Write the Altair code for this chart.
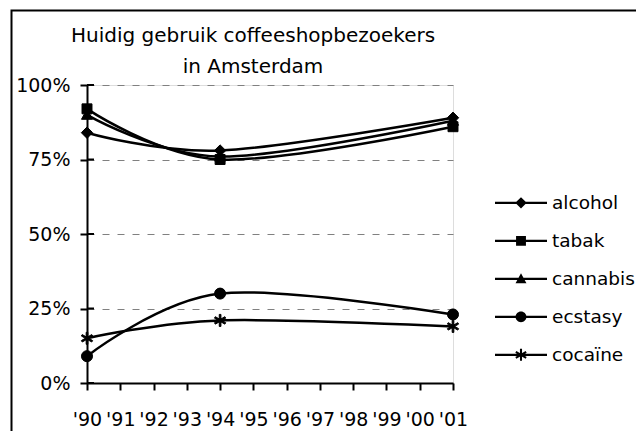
import math
import altair as alt
import pandas as pd

# ---- data ----
years = [1990, 1994, 2001]
series = ["alcohol", "tabak", "cannabis", "ecstasy", "cocaïne"]
alcohol = [84, 78, 89]
tabak = [92, 75, 86]
cannabis = [90, 76, 88]
ecstasy = [9, 30, 23]
cocaine = [15, 21, 19]
values = [alcohol, tabak, cannabis, ecstasy, cocaine]

tick_years = list(range(1990, 2002))
tick_labels = ["'90", "'91", "'92", "'93", "'94", "'95", "'96", "'97", "'98", "'99", "'00", "'01"]
y_ticks = [0, 0.25, 0.5, 0.75, 1.0]
title_lines = ["Huidig gebruik coffeeshopbezoekers", "in Amsterdam"]

FONT = "DejaVu Sans"

rows = []
for s, vals in zip(series, values):
    for y, v in zip(years, vals):
        rows.append({"year": y, "pct": v / 100.0, "series": s})
df = pd.DataFrame(rows)
ticks_df = pd.DataFrame({"tick": y_ticks})


def bar(length, half_t, angle_deg):
    """filled thin rectangle through the origin (symbol geometry)"""
    a = math.radians(angle_deg)
    c, s = math.cos(a), math.sin(a)
    pts = []
    for px, py in [(-length, -half_t), (length, -half_t), (length, half_t), (-length, half_t)]:
        pts.append((px * c - py * s, px * s + py * c))
    return "M" + "L".join(f"{x:.3f},{y:.3f}" for x, y in pts) + "Z"


def star(length, half_t):
    return "".join(bar(length, half_t, a) for a in (90, 30, 150))


def disc(r):
    return f"M{-r},0A{r},{r} 0 1,1 {r},0A{r},{r} 0 1,1 {-r},0Z"


# marker shapes (unit coordinates, 1 unit = 6 px at size 144)
marker_paths = [
    "M0,-0.95L0.95,0L0,0.95L-0.95,0Z",
    "M-0.83,-0.83L0.83,-0.83L0.83,0.83L-0.83,0.83Z",
    "M0,-0.95L0.92,0.75L-0.92,0.75Z",
    disc(0.92),
    star(1.0, 0.14),
]
# legend symbols: line + marker (1 unit = 26 px at size 2704)
legend_line = bar(1.0, 0.045, 0)
legend_paths = [
    legend_line + "M0,-0.22L0.22,0L0,0.22L-0.22,0Z",
    legend_line + "M-0.19,-0.19L0.19,-0.19L0.19,0.19L-0.19,0.19Z",
    legend_line + "M0,-0.22L0.21,0.17L-0.21,0.17Z",
    legend_line + disc(0.21),
    legend_line + star(0.23, 0.04),
]

label_map = "{" + ",".join(f"'{y}':\"{l}\"" for y, l in zip(tick_years, tick_labels)) + "}"

x_axis = alt.Axis(
    values=tick_years, labelExpr=f"{label_map}[datum.value]", title=None,
    grid=False, domainColor="black", domainWidth=2, tickColor="black",
    tickWidth=2, tickSize=7, labelFont=FONT, labelFontSize=19,
    labelColor="black", labelPadding=20, labelFlush=False, labelOverlap=False,
    tickCount=12,
)
y_axis = alt.Axis(
    values=y_ticks, format=".0%", title=None, grid=True,
    gridDash=[7, 8], gridColor="#808080", gridWidth=1,
    domainColor="black", domainWidth=2, tickColor="black", tickWidth=2,
    tickSize=7, labelFont=FONT, labelFontSize=19, labelColor="black",
    labelPadding=10,
)
x_scale = alt.Scale(domain=[tick_years[0], tick_years[-1]], nice=False, zero=False)
y_scale = alt.Scale(domain=[0, 1], nice=False)


def X():
    return alt.X("year:Q", scale=x_scale, axis=x_axis)


def Y():
    return alt.Y("pct:Q", scale=y_scale, axis=y_axis)


base = alt.Chart(df)

lines = base.mark_line(interpolate="cardinal", color="black", strokeWidth=2.5).encode(
    x=X(), y=Y(), detail="series:N"
)

points = base.mark_point(filled=True, fill="black", stroke="black", strokeWidth=1, size=144, opacity=1).encode(
    x=X(), y=Y(),
    shape=alt.Shape("series:N", scale=alt.Scale(domain=series, range=marker_paths), legend=None),
)

legend_layer = base.transform_filter("false").mark_point(
    filled=True, fill="black", size=2704, opacity=1
).encode(
    x=X(), y=Y(),
    shape=alt.Shape(
        "series:N",
        scale=alt.Scale(domain=series, range=legend_paths),
        legend=alt.Legend(
            title=None, orient="none", legendX=408, legendY=99,
            symbolSize=2704, symbolFillColor="black", symbolStrokeWidth=0,
            symbolOpacity=1, labelFont=FONT, labelFontSize=18.5,
            labelColor="black", labelOffset=5, clipHeight=37.7, rowPadding=0,
            labelLimit=300,
        ),
    ),
)

inner_ticks = alt.Chart(ticks_df).mark_rule(color="black", strokeWidth=2).encode(
    y=alt.Y("tick:Q", scale=y_scale, axis=y_axis), x=alt.value(0), x2=alt.value(7)
)

frame = alt.Chart(ticks_df.head(1)).mark_rect(
    fill=None, stroke="black", strokeWidth=2, clip=False
).encode(
    x=alt.value(-75.5), x2=alt.value(700), y=alt.value(-74.5), y2=alt.value(500)
)

chart = (
    alt.layer(frame, lines, inner_ticks, points, legend_layer)
    .resolve_scale(shape="independent")
    .properties(
        width=366, height=298,
        autosize=alt.AutoSizeParams(type="none"),
        padding={"left": 79, "top": 77, "right": 183, "bottom": 48},
        title=alt.TitleParams(
            text=title_lines, font=FONT, fontSize=20, fontWeight="normal",
            color="black", lineHeight=31, anchor="middle", dx=-17, offset=-67,
            frame="group",
        ),
    )
    .configure_view(strokeWidth=0)
    .configure(background="white")
)

chart.save("out.html", embed_options={"renderer": "svg", "actions": False})
